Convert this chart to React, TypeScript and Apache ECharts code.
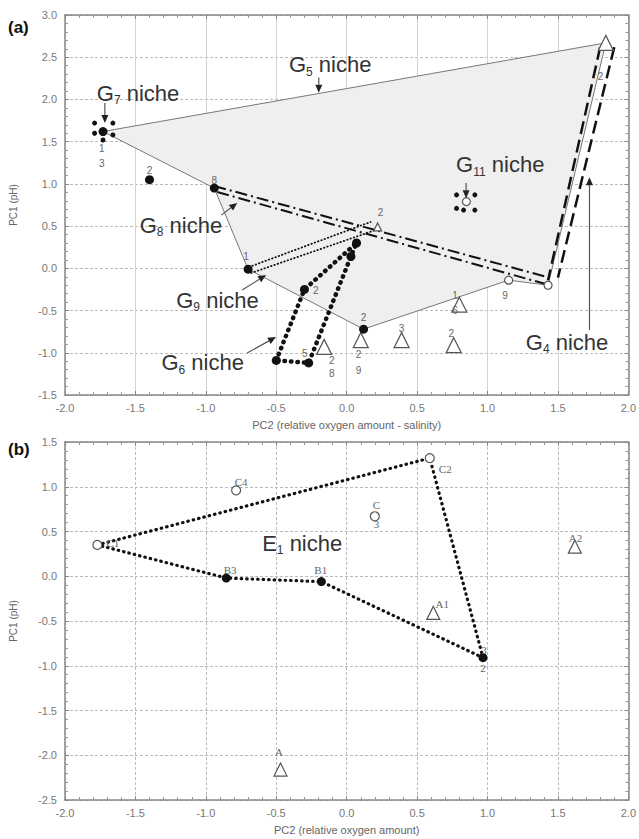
import React, { useEffect, useRef } from "react";
import * as echarts from "echarts";

const FONT = 'Arial, "Liberation Sans", Helvetica, sans-serif';
const SERIF = '"Liberation Serif", "DejaVu Serif", serif';

// ---------- Panel (a) data ----------
const g5Polygon = [[-1.73, 1.62], [1.84, 2.67], [1.43, -0.2], [1.15, -0.14], [0.12, -0.72], [-0.7, -0.01], [-0.94, 0.95]];
const g8LineUpper = [[-0.94, 0.975], [1.449, -0.115]];
const g8LineLower = [[-0.919, 0.904], [1.413, -0.186]];
const g9LineUpper = [[-0.693, 0.016], [0.17, 0.549]];
const g9LineLower = [[-0.678, -0.055], [0.205, 0.454]];
const g4LineLeft = [[1.8, 2.62], [1.43, -0.14]];
const g4LineRight = [[1.9, 2.62], [1.5, -0.11]];
const g6Polygon = [[-0.5, -1.09], [-0.3, -0.25], [0.07, 0.3], [0.03, 0.14], [-0.27, -1.12], [-0.5, -1.09]];

const filledA = [[-1.4, 1.05], [-0.94, 0.95], [-0.7, -0.01], [-0.3, -0.25], [0.07, 0.3], [0.03, 0.14], [-0.5, -1.09], [-0.27, -1.12], [0.12, -0.72], [-1.73, 1.62]];
const clusterDotsA = [[-1.79, 1.72], [-1.66, 1.72], [-1.79, 1.6], [-1.66, 1.58], [-1.73, 1.52], [0.78, 0.87], [0.91, 0.87], [0.78, 0.71], [0.83, 0.69], [0.91, 0.69]];
const openCirclesA = [[1.15, -0.14], [1.43, -0.2], [0.85, 0.79]];
const trianglesA = [[1.84, 2.67], [0.8, -0.43], [0.1, -0.85], [0.39, -0.85], [0.76, -0.91], [-0.16, -0.93]];
const smallTrianglesA = [[0.22, 0.49]];

const pointLabelTextA = ["1", "3", "2", "8", "1", "2", "5", "2", "2", "2", "9", "2", "8", "3", "2", "1", "6", "9", "2"];
const pointLabelPosA = [[-1.739, 1.425], [-1.739, 1.247], [-1.399, 1.164], [-0.94, 1.046], [-0.714, 0.146], [-0.219, -0.257], [-0.297, -1.003], [0.24, 0.667], [0.12, -0.588], [0.085, -1.026], [0.085, -1.204], [-0.106, -1.086], [-0.106, -1.24], [0.389, -0.707], [0.742, -0.766], [0.77, -0.316], [0.77, -0.494], [1.124, -0.316], [1.802, 2.266]];

const nicheSubs = ["7", "5", "11", "8", "9", "6", "4"];
const nicheLabelPos = [[-1.774, 2.076], [-0.41, 2.41], [0.777, 1.224], [-1.47, 0.513], [-1.21, -0.375], [-1.315, -1.12], [1.272, -0.873]];
// arrows: [x0, y0, x1, y1] (head at x1,y1)
const nicheArrows = [[-1.717, 1.958, -1.717, 1.72], [-0.198, 2.26, -0.198, 2.08], [0.848, 1.01, 0.848, 0.83], [-0.89, 0.63, -0.777, 0.774], [-0.742, -0.257, -0.572, -0.079], [-0.707, -1.003, -0.502, -0.813], [1.724, -0.73, 1.724, 1.08]];

// ---------- Panel (b) data ----------
const e1Polygon = [[-1.77, 0.35], [0.59, 1.32], [0.968, -0.91], [-0.18, -0.06], [-0.855, -0.02], [-1.77, 0.35]];
const openCirclesB = [[-1.77, 0.35], [0.59, 1.32], [-0.785, 0.96], [0.2, 0.67]];
const filledB = [[-0.855, -0.02], [-0.18, -0.06], [0.968, -0.91]];
const trianglesB = [[0.615, -0.41], [1.62, 0.33], [-0.47, -2.16]];
const pointLabelTextB = ["C1", "B3", "B1", "C2", "C4", "C", "3", "A1", "A2", "A", "2", "3"];
const pointLabelPosB = [[-1.66, 0.37], [-0.827, 0.07], [-0.184, 0.07], [0.7, 1.198], [-0.749, 1.053], [0.212, 0.796], [0.212, 0.584], [0.678, -0.31], [1.625, 0.427], [-0.481, -1.964], [0.968, -1.025], [0.975, -0.824]];
const e1LabelPos = [[-0.6, 0.37]];

const xTitleA = "PC2 (relative oxygen amount - salinity)";
const xTitleB = "PC2 (relative oxygen amount)";
const yTitle = "PC1 (pH)";

function bottomX(gridIndex: number, name: string, dottedVertical: boolean) {
  return {
    type: "value", gridIndex, min: -2, max: 2, interval: 0.5, position: "bottom",
    name, nameLocation: "middle", nameGap: 24,
    nameTextStyle: { color: "#666", fontSize: 11, fontFamily: FONT },
    axisLine: { show: true, onZero: false, lineStyle: { color: "#888", width: 1.5 } },
    axisTick: { show: true, inside: true, length: 4, lineStyle: { color: "#888" } },
    minorTick: { show: true, splitNumber: 5, length: 3, lineStyle: { color: "#999" } },
    axisLabel: { color: "#777", fontSize: 11, fontFamily: FONT, margin: 7, formatter: (v: number) => v.toFixed(1) },
    splitLine: { show: true, lineStyle: { color: dottedVertical ? "#bbb" : "#d4d4d4", type: dottedVertical ? [3, 2] : "solid", width: 1 } },
  };
}
function topX(gridIndex: number) {
  return {
    type: "value", gridIndex, min: -2, max: 2, interval: 0.5, position: "top",
    axisLine: { show: true, onZero: false, lineStyle: { color: "#888", width: 1.5 } },
    axisTick: { show: true, inside: true, length: 4, lineStyle: { color: "#888" } },
    minorTick: { show: true, splitNumber: 5, length: 3, lineStyle: { color: "#999" } },
    axisLabel: { show: false }, splitLine: { show: false },
  };
}
function leftY(gridIndex: number, min: number, max: number) {
  return {
    type: "value", gridIndex, min, max, interval: 0.5, position: "left",
    name: yTitle, nameLocation: "middle", nameGap: 47,
    nameTextStyle: { color: "#666", fontSize: 10, fontFamily: FONT },
    axisLine: { show: true, onZero: false, lineStyle: { color: "#888", width: 1.5 } },
    axisTick: { show: true, inside: true, length: 4, lineStyle: { color: "#888" } },
    minorTick: { show: true, splitNumber: 5, length: 3, lineStyle: { color: "#999" } },
    axisLabel: { color: "#777", fontSize: 11, fontFamily: FONT, margin: 8, formatter: (v: number) => v.toFixed(1) },
    splitLine: { show: true, lineStyle: { color: "#bbb", type: [3, 2], width: 1 } },
  };
}
function rightY(gridIndex: number, min: number, max: number) {
  return {
    type: "value", gridIndex, min, max, interval: 0.5, position: "right",
    axisLine: { show: true, onZero: false, lineStyle: { color: "#888", width: 1.5 } },
    axisTick: { show: true, inside: true, length: 4, lineStyle: { color: "#888" } },
    minorTick: { show: true, splitNumber: 5, length: 3, lineStyle: { color: "#999" } },
    axisLabel: { show: false }, splitLine: { show: false },
  };
}

function lineSeries(data: number[][], axis: number, style: any) {
  return {
    type: "line", xAxisIndex: axis, yAxisIndex: axis, data, showSymbol: false, symbol: "none",
    silent: true, lineStyle: style, z: 3,
  };
}
function scatter(data: number[][], axis: number, symbol: string, size: number, fill: string, border: string, z = 5) {
  return {
    type: "scatter", xAxisIndex: axis, yAxisIndex: axis, data, symbol, symbolSize: size, silent: true, z,
    itemStyle: { color: fill, borderColor: border, borderWidth: fill === "#fff" ? 1.2 : 0, opacity: 1 },
  };
}
function textSeries(pos: number[][], texts: string[], axis: number, font: string, size: number) {
  return {
    type: "custom", xAxisIndex: axis, yAxisIndex: axis, data: pos, silent: true, z: 8,
    renderItem: (params: any, api: any) => {
      const p = api.coord([api.value(0), api.value(1)]);
      return {
        type: "text", x: p[0], y: p[1],
        style: { text: texts[params.dataIndex], fill: "#666", fontSize: size, fontFamily: font, align: "center", verticalAlign: "middle" },
      };
    },
  };
}

export default function App() {
  const ref = useRef<HTMLDivElement>(null);
  useEffect(() => {
    if (!ref.current) return;
    const chart = echarts.init(ref.current, undefined, { renderer: "svg" });
    const dotLine = (w: number, gap: number) => ({ color: "#111", width: w, type: [0.5, gap], cap: "round" });
    const option: any = {
      animation: false,
      backgroundColor: "#fff",
      grid: [
        { left: 65, right: 8, top: 15, height: 380 },
        { left: 65, right: 8, top: 442, height: 358 },
      ],
      xAxis: [bottomX(0, xTitleA, false), topX(0), bottomX(1, xTitleB, true), topX(1)],
      yAxis: [leftY(0, -1.5, 3), rightY(0, -1.5, 3), leftY(1, -2.5, 1.5), rightY(1, -2.5, 1.5)],
      graphic: [
        { type: "text", left: 8, top: 19, style: { text: "(a)", fontSize: 17, fontWeight: "bold", fontFamily: FONT, fill: "#111" } },
        { type: "text", left: 8, top: 441, style: { text: "(b)", fontSize: 17, fontWeight: "bold", fontFamily: FONT, fill: "#111" } },
      ],
      series: [
        // G5 niche shaded area
        {
          type: "custom", xAxisIndex: 0, yAxisIndex: 0, data: g5Polygon, silent: true, z: 1,
          renderItem: (params: any, api: any) => {
            if (params.dataIndex !== 0) return null;
            const pts = g5Polygon.map((p) => api.coord(p));
            return { type: "polygon", shape: { points: pts }, style: { fill: "#efefef", stroke: "none" } };
          },
        },
        lineSeries([...g5Polygon, g5Polygon[0]], 0, { color: "#777", width: 1 }),
        lineSeries(g8LineUpper, 0, { color: "#111", width: 2, type: [12, 4, 2, 4] }),
        lineSeries(g8LineLower, 0, { color: "#111", width: 2, type: [12, 4, 2, 4] }),
        lineSeries(g9LineUpper, 0, dotLine(1.8, 3)),
        lineSeries(g9LineLower, 0, dotLine(1.8, 3)),
        lineSeries(g4LineLeft, 0, { color: "#111", width: 2.5, type: [13, 6] }),
        lineSeries(g4LineRight, 0, { color: "#111", width: 2.5, type: [13, 6] }),
        lineSeries(g6Polygon, 0, dotLine(4.5, 6)),
        scatter(trianglesA, 0, "triangle", 15, "#fff", "#555"),
        scatter(smallTrianglesA, 0, "triangle", 8, "#fff", "#555"),
        scatter(openCirclesA, 0, "circle", 8, "#fff", "#555"),
        scatter(filledA, 0, "circle", 9, "#111", "#111"),
        scatter(clusterDotsA, 0, "circle", 5, "#111", "#111"),
        textSeries(pointLabelPosA, pointLabelTextA, 0, FONT, 10),
        // niche labels
        {
          type: "custom", xAxisIndex: 0, yAxisIndex: 0, data: nicheLabelPos, silent: true, z: 9,
          renderItem: (params: any, api: any) => {
            const p = api.coord([api.value(0), api.value(1)]);
            return {
              type: "text", x: p[0], y: p[1],
              style: {
                text: "G{s|" + nicheSubs[params.dataIndex] + "} niche",
                fill: "#333", fontSize: 22, fontFamily: FONT, align: "left", verticalAlign: "middle",
                rich: { s: { fontSize: 12, fontFamily: FONT, fill: "#333", padding: [14, 0, 0, 0] } },
              },
            };
          },
        },
        // arrows
        {
          type: "custom", xAxisIndex: 0, yAxisIndex: 0, data: nicheArrows, silent: true, z: 9,
          renderItem: (params: any, api: any) => {
            const a = nicheArrows[params.dataIndex];
            const p0 = api.coord([a[0], a[1]]);
            const p1 = api.coord([a[2], a[3]]);
            const dx = p1[0] - p0[0], dy = p1[1] - p0[1];
            const len = Math.sqrt(dx * dx + dy * dy);
            const ux = dx / len, uy = dy / len;
            const hl = 8, hw = 3.5;
            const bx = p1[0] - ux * hl, by = p1[1] - uy * hl;
            return {
              type: "group",
              children: [
                { type: "line", shape: { x1: p0[0], y1: p0[1], x2: bx, y2: by }, style: { stroke: "#555", lineWidth: 1.2 } },
                { type: "polygon", shape: { points: [[p1[0], p1[1]], [bx - uy * hw, by + ux * hw], [bx + uy * hw, by - ux * hw]] }, style: { fill: "#222" } },
              ],
            };
          },
        },
        // ---------- Panel (b) ----------
        lineSeries(e1Polygon, 2, dotLine(3.2, 5)),
        scatter(trianglesB, 2, "triangle", 13, "#fff", "#555"),
        scatter(openCirclesB, 2, "circle", 9, "#fff", "#555"),
        scatter(filledB, 2, "circle", 9, "#111", "#111"),
        textSeries(pointLabelPosB, pointLabelTextB, 2, SERIF, 11),
        {
          type: "custom", xAxisIndex: 2, yAxisIndex: 2, data: e1LabelPos, silent: true, z: 9,
          renderItem: (params: any, api: any) => {
            const p = api.coord([api.value(0), api.value(1)]);
            return {
              type: "text", x: p[0], y: p[1],
              style: {
                text: "E{s|1} niche",
                fill: "#333", fontSize: 22, fontFamily: FONT, align: "left", verticalAlign: "middle",
                rich: { s: { fontSize: 12, fontFamily: FONT, fill: "#333", padding: [14, 0, 0, 0] } },
              },
            };
          },
        },
      ],
    };
    chart.setOption(option);
    return () => chart.dispose();
  }, []);
  return <div ref={ref} style={{ position: "absolute", left: 0, top: 0, width: 639, height: 839, background: "#fff" }} />;
}
